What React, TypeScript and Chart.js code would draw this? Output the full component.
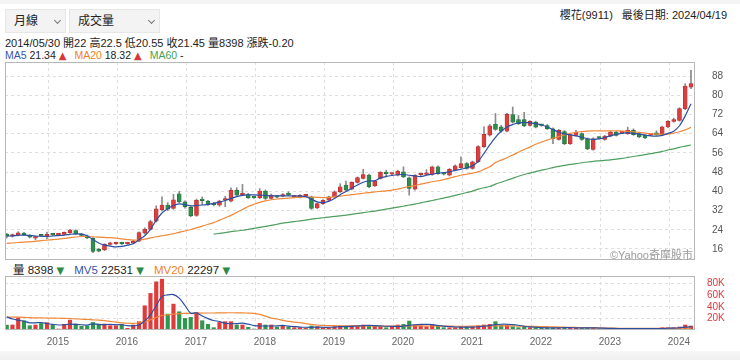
import React, { useEffect, useRef } from 'react';
import { Chart, registerables } from 'chart.js';

Chart.register(...registerables);

// ---------- data (monthly, 2014/05 .. 2024/04) ----------
const opens = [
  22, 21.3, 21.8, 22.6, 21.8, 20.5, 21.8, 21.1, 22.2, 21.9,
  22.1, 22.8, 23.7, 22.2, 21.5, 20.5, 15.9, 15.6, 17.9, 18.2,
  18.5, 18.2, 18.4, 19.3, 22.6, 24.1, 27.6, 32.3, 34.3, 32.9,
  39.0, 35.6, 33.3, 30.0, 36.5, 35.9, 34.7, 34.2, 36.3, 35.9,
  40.5, 38.6, 38.7, 37.6, 37.3, 40.1, 37.0, 37.9, 38.0, 38.9,
  37.6, 37.6, 38.1, 37.7, 33.1, 34.9, 36.3, 37.7, 39.8, 42.6,
  40.9, 43.7, 45.4, 46.8, 42.3, 45.4, 47.6, 47.1, 46.7, 48.1,
  45.6, 40.9, 46.9, 47.0, 47.0, 50.2, 47.4, 46.7, 48.8, 49.8,
  51.6, 49.5, 52.3, 58.6, 63.4, 67.9, 66.8, 65.0, 71.9, 69.9,
  69.9, 67.4, 68.8, 67.6, 67.4, 66.0, 61.6, 64.9, 59.8, 63.3,
  64.0, 61.9, 57.4, 62.4, 61.6, 63.0, 64.7, 64.3, 64.0, 65.4,
  64.0, 63.3, 63.4, 64.4, 63.6, 66.8, 69.1, 69.5, 74.4, 83.4,
];
const closes = [
  21.45, 21.7, 22.7, 22.0, 20.9, 20.9, 21.4, 22.1, 21.9, 22.1,
  22.9, 23.9, 22.3, 21.6, 20.6, 15.0, 15.1, 17.9, 18.3, 18.5,
  18.2, 18.4, 19.2, 22.8, 24.2, 27.4, 32.7, 34.3, 32.6, 36.5,
  35.6, 33.6, 29.8, 36.3, 36.1, 34.5, 34.4, 35.9, 36.8, 40.5,
  38.4, 39.0, 37.3, 37.3, 40.1, 37.0, 38.4, 37.6, 38.7, 38.6,
  37.9, 38.3, 38.3, 32.9, 34.9, 36.3, 37.7, 39.8, 41.9, 40.5,
  43.7, 45.7, 47.0, 41.9, 44.3, 47.9, 47.3, 47.3, 48.4, 46.0,
  41.2, 46.7, 47.2, 47.4, 50.2, 47.4, 47.1, 49.2, 50.6, 51.6,
  49.5, 52.3, 58.6, 63.7, 67.3, 65.8, 65.0, 72.0, 68.8, 68.1,
  67.2, 69.1, 66.7, 67.4, 66.0, 61.9, 65.4, 59.8, 63.6, 64.7,
  61.6, 57.7, 61.9, 62.1, 63.0, 64.7, 63.3, 64.5, 65.4, 63.6,
  62.6, 62.2, 63.7, 63.6, 66.8, 69.1, 69.9, 74.4, 83.8, 84.8,
];
const highs = [
  22.5, 22.2, 23.2, 22.9, 22.0, 21.3, 22.0, 23.0, 22.5, 22.3,
  23.1, 24.2, 24.0, 22.5, 21.8, 20.8, 16.3, 18.2, 18.8, 18.9,
  18.8, 18.7, 19.6, 23.1, 24.8, 28.0, 34.0, 37.7, 35.3, 38.8,
  40.0, 36.0, 33.8, 36.8, 37.7, 36.3, 35.4, 36.3, 37.9, 41.5,
  41.5, 42.9, 39.1, 37.9, 41.1, 40.6, 38.9, 38.2, 39.1, 39.8,
  38.3, 38.6, 38.6, 38.0, 35.2, 36.6, 38.0, 40.2, 43.2, 44.3,
  44.0, 46.0, 49.2, 47.2, 44.6, 48.2, 48.8, 47.7, 48.8, 50.2,
  46.0, 47.0, 47.5, 49.0, 50.5, 50.6, 47.6, 49.5, 51.0, 54.4,
  52.0, 52.6, 59.0, 66.8, 67.8, 72.4, 67.5, 72.5, 75.1, 71.6,
  72.9, 69.5, 69.2, 67.9, 67.8, 66.4, 65.8, 65.3, 64.0, 65.4,
  64.4, 62.2, 62.3, 62.7, 63.3, 65.0, 65.0, 64.9, 66.7, 66.0,
  64.3, 63.6, 64.0, 65.2, 67.1, 69.5, 70.4, 74.8, 84.8, 90.4,
];
const lows = [
  20.55, 21.0, 21.5, 21.7, 20.6, 19.8, 21.1, 20.3, 21.6, 21.7,
  21.9, 22.5, 22.0, 21.2, 20.3, 14.5, 14.8, 15.3, 17.6, 17.9,
  17.8, 18.0, 18.2, 19.1, 22.2, 23.9, 27.2, 31.8, 32.0, 32.5,
  35.2, 33.0, 29.4, 29.6, 34.4, 34.1, 33.9, 33.8, 33.6, 35.6,
  38.0, 38.3, 37.0, 37.0, 37.0, 36.6, 36.7, 37.3, 37.7, 38.3,
  37.3, 37.3, 37.9, 32.5, 32.8, 34.6, 36.0, 37.5, 39.5, 40.2,
  40.6, 43.4, 45.1, 41.5, 42.0, 45.1, 46.0, 46.8, 46.4, 45.7,
  38.4, 40.5, 46.5, 46.7, 46.7, 47.0, 46.8, 46.4, 48.5, 49.5,
  49.2, 49.2, 52.0, 58.3, 63.0, 65.4, 64.6, 64.7, 68.4, 67.8,
  66.9, 67.1, 66.4, 67.1, 65.7, 59.8, 61.3, 59.4, 59.5, 63.0,
  61.2, 57.3, 57.1, 61.8, 61.3, 62.7, 63.0, 64.0, 63.7, 63.3,
  62.3, 61.9, 63.1, 63.3, 63.3, 66.5, 68.8, 69.2, 74.0, 82.7,
];
const volumes = [
  8398, 8600, 21000, 16000, 7400, 8600, 11400, 12600, 8600, 1700,
  9700, 17000, 10300, 6300, 6900, 13000, 10300, 10300, 7400, 7400,
  9700, 2900, 8600, 14300, 41700, 63000, 83000, 87500, 27400, 44600,
  31400, 20000, 21700, 30300, 16000, 9700, 4000, 13000, 14300, 14300,
  8600, 8600, 4600, 1700, 11400, 8600, 8600, 5100, 6300, 5700,
  4000, 4000, 2900, 6900, 5700, 4000, 4000, 5700, 6900, 6900,
  7400, 7400, 8600, 7400, 6900, 5700, 4000, 5700, 8600, 9700,
  15400, 8600, 7400, 5700, 9700, 6900, 4000, 4000, 4000, 5700,
  5700, 5700, 7400, 8600, 9700, 14300, 8600, 8600, 5700, 4000,
  5700, 4000, 4000, 2900, 4000, 4000, 4000, 4000, 4000, 2900,
  4000, 4000, 4000, 1700, 2900, 2300, 2300, 1700, 2900, 2900,
  2300, 2300, 1700, 2300, 4000, 4000, 4000, 5100, 8600, 6900,
];
const ma5 = [
  21.34, 21.5, 21.7, 21.8, 21.6, 21.4, 21.3, 21.3, 21.4, 21.6,
  21.8, 22.1, 22.3, 22.2, 21.5, 19.9, 18.5, 17.6, 17.2, 16.9,
  17.1, 17.6, 18.2, 19.8, 21.5, 24.2, 28.0, 31.0, 32.8, 34.1,
  34.8, 34.5, 34.0, 34.1, 34.3, 34.6, 35.0, 35.5, 36.2, 37.0,
  37.8, 38.3, 38.5, 38.5, 38.4, 38.3, 38.1, 38.1, 38.1, 38.1,
  38.1, 38.0, 37.8, 36.7, 35.6, 35.3, 35.8, 37.0, 38.6, 39.9,
  41.3, 42.6, 43.8, 44.3, 44.4, 45.6, 46.2, 46.6, 46.9, 47.0,
  46.7, 46.4, 46.1, 46.7, 47.1, 47.6, 47.8, 48.1, 48.7, 49.2,
  49.8, 50.6, 52.5, 55.8, 59.3, 62.5, 65.0, 66.8, 67.8, 68.5,
  68.7, 68.5, 68.1, 67.6, 66.8, 65.7, 64.7, 63.9, 63.5, 63.1,
  62.5, 61.9, 61.6, 61.8, 62.4, 63.1, 63.7, 64.1, 64.4, 64.1,
  63.8, 63.4, 63.1, 63.0, 63.3, 64.1, 65.0, 67.3, 71.4, 76.5,
];
const ma20 = [
  18.32, 18.5, 18.7, 18.9, 19.0, 19.2, 19.5, 19.7, 19.9, 20.1,
  20.4, 20.7, 21.0, 21.2, 21.2, 21.1, 20.9, 20.8, 20.7, 20.5,
  20.2, 19.9, 19.7, 19.8, 20.1, 20.6, 21.1, 21.5, 21.9, 22.4,
  22.9, 23.5, 24.1, 24.8, 25.5, 26.3, 27.0, 28.0, 29.0, 30.0,
  31.2, 32.4, 33.7, 34.6, 35.4, 36.0, 36.5, 36.8, 37.0, 37.2,
  37.4, 37.6, 37.7, 37.6, 37.5, 37.4, 37.5, 37.7, 38.0, 38.3,
  38.6, 38.9, 39.2, 39.5, 39.8, 40.0, 40.2, 40.5, 40.9, 41.5,
  42.0, 42.4, 43.0, 43.5, 44.0, 44.4, 44.9, 45.5, 46.1, 46.7,
  47.1, 47.6, 48.1, 49.2, 50.2, 52.0, 53.0, 54.0, 55.1, 56.3,
  57.4, 58.4, 59.6, 60.5, 61.3, 62.1, 62.8, 63.5, 64.1, 64.6,
  64.9, 65.1, 65.2, 65.2, 65.2, 65.2, 65.2, 65.1, 65.0, 64.8,
  64.5, 64.2, 64.0, 63.8, 63.7, 63.8, 64.2, 64.8, 65.6, 66.6,
];
const ma60 = [
  null, null, null, null, null, null, null, null, null, null,
  null, null, null, null, null, null, null, null, null, null,
  null, null, null, null, null, null, null, null, null, null,
  null, null, null, null, null, null, 22.2, 22.5, 22.8, 23.2,
  23.5, 23.8, 24.2, 24.6, 25.0, 25.4, 25.8, 26.3, 26.8, 27.1,
  27.4, 27.7, 28.0, 28.4, 28.7, 29.0, 29.3, 29.6, 29.8, 30.1,
  30.4, 30.8, 31.1, 31.5, 31.8, 32.2, 32.6, 33.0, 33.4, 33.8,
  34.3, 34.7, 35.2, 35.7, 36.2, 36.7, 37.2, 37.7, 38.3, 38.9,
  39.5, 40.1, 40.9, 41.5, 42.0, 43.0, 43.8, 44.6, 45.4, 46.3,
  47.0, 47.6, 48.2, 48.8, 49.3, 49.9, 50.4, 50.8, 51.2, 51.5,
  51.9, 52.2, 52.5, 52.7, 52.9, 53.1, 53.4, 53.7, 54.1, 54.5,
  54.9, 55.3, 55.7, 56.1, 56.6, 57.2, 57.7, 58.3, 58.8, 59.3,
];
const mv5 = [
  22531, 19000, 17000, 15000, 12300, 12300, 12900, 11200, 9800, 8600,
  9000, 10000, 9600, 9000, 8500, 10700, 9400, 9400, 9600, 9100,
  9000, 7500, 7200, 8600, 15400, 26000, 42000, 58000, 60500, 61000,
  54800, 42200, 29000, 29500, 24000, 19600, 16300, 14700, 11600, 10800,
  11000, 12000, 10000, 7500, 6900, 6900, 6900, 7100, 8000, 6800,
  5900, 5100, 4700, 4600, 5100, 4700, 4700, 5100, 5700, 5900,
  6400, 6900, 7500, 7800, 7600, 7100, 6500, 6200, 6200, 6600,
  8100, 9000, 9600, 9600, 9400, 7700, 6800, 6000, 5200, 4900,
  4800, 5000, 5600, 6600, 7500, 9200, 9900, 9900, 9400, 8200,
  6500, 5300, 4700, 4100, 3800, 3800, 3800, 4000, 4000, 3800,
  3800, 3800, 3800, 3300, 3100, 2800, 2600, 2200, 2400, 2400,
  2400, 2500, 2400, 2300, 2600, 3000, 3200, 3900, 5100, 5700,
];
const mv20 = [
  22297, 22200, 22100, 21900, 21200, 21000, 20800, 20600, 20400, 20200,
  20000, 19600, 19200, 18700, 18200, 17500, 16900, 16000, 14800, 13600,
  12400, 11600, 11400, 12500, 14300, 17500, 21500, 25000, 26200, 27500,
  28300, 28600, 28800, 29000, 29200, 29300, 29300, 29400, 29600, 29700,
  29600, 29400, 29100, 28600, 26800, 23800, 20500, 19000, 16500, 15000,
  13600, 12600, 11000, 9800, 8600, 8000, 7500, 7400, 7300, 7200,
  7200, 7200, 7200, 7000, 6800, 6700, 6600, 6600, 6600, 6700,
  6900, 7000, 7000, 6900, 6900, 6800, 6700, 6600, 6500, 6400,
  6500, 6600, 6700, 6900, 7000, 7100, 7200, 7100, 7000, 6800,
  6600, 6400, 6200, 5900, 5700, 5400, 5100, 4900, 4600, 4400,
  4200, 4000, 3800, 3600, 3400, 3200, 3100, 3000, 3000, 2900,
  2900, 2800, 2800, 2700, 2800, 2800, 2900, 3000, 3200, 3400,
];
const yearLabels = ['2015', '2016', '2017', '2018', '2019', '2020', '2021', '2022', '2023', '2024'];
const priceTicks = [16, 24, 32, 40, 48, 56, 64, 72, 80, 88];
const volumeTicks = [20000, 40000, 60000, 80000];

// ---------- styling ----------
const FONT = '"Liberation Sans", Arial, "Noto Sans CJK TC", sans-serif';
const UP = '#dc3d3d';
const UP_EDGE = '#b52c2c';
const DOWN = '#2f8d4b';
const DOWN_EDGE = '#216d38';
const GRID = '#dedede';
const X_MIN = -0.3;
const X_MAX = 119.7;
const yearGrid = yearLabels.map((_, k) => 7.25 + 12 * k);

const frame = {
  id: 'frame',
  afterDatasetsDraw(chart: any) {
    const { ctx, chartArea: a } = chart;
    ctx.save();
    ctx.strokeStyle = '#b8b8b8';
    ctx.lineWidth = 1;
    ctx.strokeRect(a.left + 0.5, a.top + 0.5, a.right - a.left - 1, a.bottom - a.top - 1);
    ctx.restore();
  },
};

const idx = closes.map((_, i) => i);
const isUp = idx.map((i) => closes[i] >= opens[i]);

function lineDs(label: string, values: (number | null)[], color: string) {
  return {
    type: 'line' as const,
    label,
    data: values.map((y, i) => ({ x: i, y })),
    borderColor: color,
    borderWidth: 1.2,
    pointRadius: 0,
    tension: 0.3,
    spanGaps: false,
    order: 1,
  };
}

function xScale(showLabels: boolean) {
  return {
    type: 'linear' as const,
    min: X_MIN,
    max: X_MAX,
    offset: false,
    grid: { color: GRID, drawTicks: false, offset: false },
    border: { display: false, dash: [3, 3] },
    afterBuildTicks: (axis: any) => {
      axis.ticks = yearGrid.map((v) => ({ value: v }));
    },
    afterFit: (axis: any) => {
      axis.height = showLabels ? 22 : 0;
      axis.paddingLeft = 0;
      axis.paddingRight = 0;
      axis.paddingTop = 0;
      axis.paddingBottom = 0;
    },
    ticks: {
      display: showLabels,
      autoSkip: false,
      maxRotation: 0,
      labelOffset: 9.5,
      padding: 6,
      color: '#666',
      font: { size: 10, family: FONT },
      callback: (_v: any, index: number) => yearLabels[index],
    },
  };
}

function yScale(min: number, max: number, ticks: number[], padding: number, color: string, fmt: (v: number) => string) {
  return {
    position: 'right' as const,
    min,
    max,
    grid: { color: GRID, drawTicks: false },
    border: { display: false, dash: [3, 3] },
    afterBuildTicks: (axis: any) => {
      axis.ticks = ticks.map((v) => ({ value: v }));
    },
    afterFit: (axis: any) => {
      axis.width = 45;
      axis.paddingTop = 0;
      axis.paddingBottom = 0;
      axis.paddingLeft = 0;
      axis.paddingRight = 0;
    },
    ticks: {
      padding,
      color,
      font: { size: 10, family: FONT },
      callback: (v: any) => fmt(Number(v)),
    },
  };
}

function mainConfig(): any {
  return {
    type: 'bar',
    data: {
      datasets: [
        lineDs('MA5', ma5, '#2c4fa3'),
        lineDs('MA20', ma20, '#f0883a'),
        lineDs('MA60', ma60, '#4f9f5f'),
        {
          type: 'bar',
          label: 'body',
          data: idx.map((i) => ({ x: i, y: [Math.min(opens[i], closes[i]), Math.max(opens[i], closes[i])] })),
          backgroundColor: isUp.map((u) => (u ? UP : DOWN)),
          borderColor: isUp.map((u) => (u ? UP_EDGE : DOWN_EDGE)),
          borderWidth: 0.6,
          borderSkipped: false,
          barThickness: 4,
          minBarLength: 1.6,
          grouped: false,
          order: 2,
        },
        {
          type: 'bar',
          label: 'wick',
          data: idx.map((i) => ({ x: i, y: [lows[i], highs[i]] })),
          backgroundColor: '#8a8a8a',
          barThickness: 1,
          grouped: false,
          order: 3,
        },
      ],
    },
    options: {
      responsive: false,
      maintainAspectRatio: false,
      animation: false,
      events: [],
      layout: { padding: { left: 5, right: 0, top: 0, bottom: 0 } },
      plugins: { legend: { display: false }, tooltip: { enabled: false } },
      scales: {
        x: xScale(false),
        y: yScale(11.42, 93.83, priceTicks, 17, '#555', (v) => String(v)),
      },
    },
    plugins: [frame],
  };
}

function volConfig(): any {
  return {
    type: 'bar',
    data: {
      datasets: [
        lineDs('MV5', mv5, '#2c4fa3'),
        lineDs('MV20', mv20, '#f0883a'),
        {
          type: 'bar',
          label: 'volume',
          data: idx.map((i) => ({ x: i, y: volumes[i] })),
          backgroundColor: isUp.map((u) => (u ? '#e03b3b' : '#2f974e')),
          barThickness: 3.5,
          grouped: false,
          order: 2,
        },
      ],
    },
    options: {
      responsive: false,
      maintainAspectRatio: false,
      animation: false,
      events: [],
      layout: { padding: { left: 5, right: 0, top: 0, bottom: 0 } },
      plugins: { legend: { display: false }, tooltip: { enabled: false } },
      scales: {
        x: xScale(true),
        y: yScale(0, 93000, volumeTicks, 12, '#e0393e', (v) => `${v / 1000}K`),
      },
    },
    plugins: [frame],
  };
}

const abs = (s: React.CSSProperties): React.CSSProperties => ({ position: 'absolute', whiteSpace: 'nowrap', ...s });

function Select({ left, width, text }: { left: number; width: number; text: string }) {
  return (
    <div
      style={abs({
        left,
        top: 9,
        width,
        height: 24,
        background: '#f3f3f3',
        border: '1px solid #e6e6e6',
        boxSizing: 'border-box',
      })}
    >
      <span style={abs({ left: 8, top: 0, lineHeight: '22px', fontSize: 12, color: '#222' })}>{text}</span>
      <span
        style={abs({
          left: width - 12,
          top: 8,
          width: 4,
          height: 4,
          borderRight: '1px solid #777',
          borderBottom: '1px solid #777',
          transform: 'rotate(45deg)',
        })}
      />
    </div>
  );
}

export default function App() {
  const mainRef = useRef<HTMLCanvasElement>(null);
  const volRef = useRef<HTMLCanvasElement>(null);

  useEffect(() => {
    const c1 = new Chart(mainRef.current as HTMLCanvasElement, mainConfig());
    const c2 = new Chart(volRef.current as HTMLCanvasElement, volConfig());
    return () => {
      c1.destroy();
      c2.destroy();
    };
  }, []);

  const red = '#d9383a';
  const green = '#2e8b47';
  const tri: React.CSSProperties = { fontSize: 10, fontFamily: '"DejaVu Sans", sans-serif' };

  return (
    <div
      style={{
        position: 'fixed',
        left: 0,
        top: 0,
        width: 740,
        height: 360,
        background: '#fff',
        fontFamily: FONT,
        color: '#222',
        overflow: 'hidden',
      }}
    >
      <div style={abs({ left: 0, top: 0, width: 740, height: 4, background: '#f4f4f4' })} />
      <Select left={5} width={61} text="月線" />
      <Select left={69} width={91} text="成交量" />

      <div style={abs({ right: 13, top: 8, fontSize: 11, lineHeight: '15px', color: '#222' })}>
        櫻花(9911)<span style={{ marginLeft: 9 }}>最後日期: 2024/04/19</span>
      </div>

      <div style={abs({ left: 5, top: 35.5, fontSize: 11, lineHeight: '15px', color: '#222' })}>
        2014/05/30 開22 高22.5 低20.55 收21.45 量8398 漲跌-0.20
      </div>
      <div style={abs({ left: 5, top: 47.5, fontSize: 10.5, lineHeight: '14px', color: '#222' })}>
        <span style={{ color: '#3556a8' }}>MA5</span> 21.34 <span style={{ ...tri, color: red }}>▲</span>
        <span style={{ color: '#ef7f2a', marginLeft: 8 }}>MA20</span> 18.32{' '}
        <span style={{ ...tri, color: red }}>▲</span>
        <span style={{ color: '#48a055', marginLeft: 8 }}>MA60</span> -
      </div>

      <canvas ref={mainRef} width={740} height={198} style={{ position: 'absolute', left: 0, top: 62 }} />

      <div style={abs({ right: 47, top: 248, fontSize: 11, lineHeight: '14px', color: '#9a9a9a' })}>©Yahoo奇摩股市</div>

      <div style={abs({ left: 13, top: 262.5, fontSize: 11.5, lineHeight: '15px', color: '#222' })}>
        量 8398 <span style={{ ...tri, color: green }}>▼</span>
        <span style={{ color: '#3556a8', marginLeft: 10 }}>MV5</span> 22531{' '}
        <span style={{ ...tri, color: green }}>▼</span>
        <span style={{ color: '#ef7f2a', marginLeft: 10 }}>MV20</span> 22297{' '}
        <span style={{ ...tri, color: green }}>▼</span>
      </div>

      <canvas ref={volRef} width={740} height={76} style={{ position: 'absolute', left: 0, top: 276 }} />

      <div
        style={abs({
          left: 0,
          top: 351,
          width: 740,
          height: 9,
          background: 'linear-gradient(#f7f7f7, #efefef)',
        })}
      />
    </div>
  );
}
